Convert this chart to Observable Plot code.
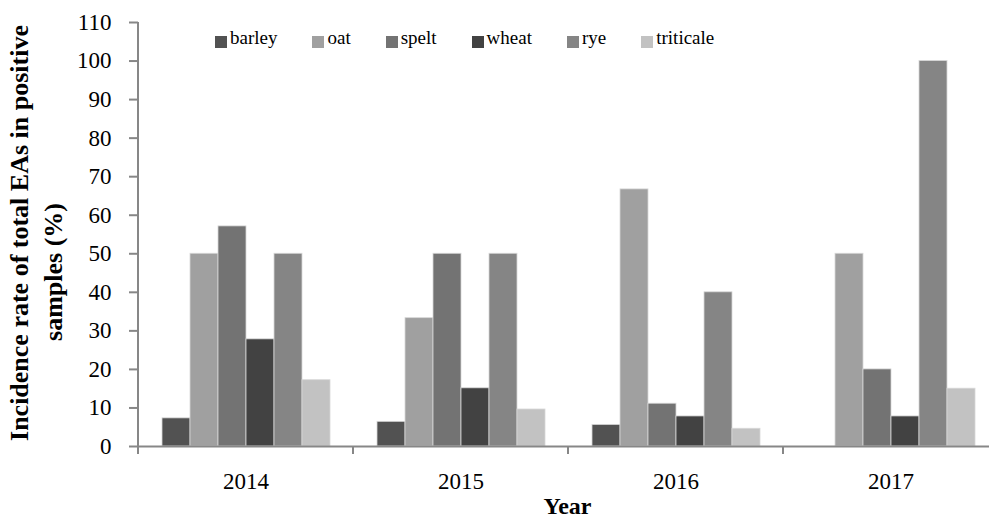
<!DOCTYPE html>
<html>
<head>
<meta charset="utf-8">
<script src="https://cdn.jsdelivr.net/npm/d3@7"></script>
<script src="https://cdn.jsdelivr.net/npm/@observablehq/plot@0.6"></script>
<style>
  html, body { margin: 0; padding: 0; background: #fff; }
  #wrap { position: relative; width: 989px; height: 519px; overflow: hidden; font-family: "Liberation Serif", "Times New Roman", Tinos, "DejaVu Serif", serif; color: #000; }
  #wrap svg, #wrap svg text { font-family: "Liberation Serif", "Times New Roman", Tinos, "DejaVu Serif", serif; }
  #legend { position: absolute; left: 215px; top: 28px; display: flex; align-items: center; height: 19px; font-size: 19px; line-height: 19px; }
  #legend .item { display: flex; align-items: center; margin-right: 35px; }
  #legend .sw { width: 12px; height: 12px; margin-right: 3px; position: relative; top: 4px; }
  .rot { position: absolute; transform: translate(-50%, -50%) rotate(-90deg); white-space: nowrap; font-weight: bold; font-size: 26px; line-height: 26px; }
  #xlab { position: absolute; transform: translateX(-50%); white-space: nowrap; font-weight: bold; font-size: 24px; line-height: 20px; }
</style>
</head>
<body>
<div id="wrap"></div>
<script>
// ---- data ----
const years = ["2014", "2015", "2016", "2017"];
const crops = ["barley", "oat", "spelt", "wheat", "rye", "triticale"];
const barley    = [7.3, 6.4, 5.6, 0];
const oat       = [50, 33.3, 66.7, 50];
const spelt     = [57.1, 50, 11.1, 20];
const wheat     = [27.8, 15.1, 7.8, 7.8];
const rye       = [50, 50, 40, 100];
const triticale = [17.2, 9.6, 4.6, 15];
const cropColors = ["#525252", "#a0a0a0", "#737373", "#424242", "#858585", "#c2c2c2"];
const yTicks = [0, 10, 20, 30, 40, 50, 60, 70, 80, 90, 100, 110];
const yTitle = ["Incidence rate of total EAs in positive", "samples (%)"];
const xTitle = "Year";

const series = [barley, oat, spelt, wheat, rye, triticale];
const data = years.flatMap((year, i) => crops.map((crop, j) => ({year, crop, value: series[j][i]})));

const axisColor = "#878787";
const serif = '"Liberation Serif", "Times New Roman", Tinos, "DejaVu Serif", serif';

const plot = Plot.plot({
  width: 989,
  height: 519,
  marginLeft: 137,
  marginRight: -9,
  marginTop: 22,
  marginBottom: 73,
  style: {fontFamily: serif, background: "transparent", color: "#000", overflow: "visible"},
  fx: {domain: years, padding: 0, label: null, axis: null},
  x: {domain: crops, paddingInner: 0, paddingOuter: 0.76, axis: null},
  y: {domain: [0, 110], label: null},
  color: {domain: crops, range: cropColors},
  marks: [
    Plot.barY(data.filter(d => d.value > 0), {fx: "year", x: "crop", y: "value", fill: "crop", stroke: "#d8d8d8", strokeWidth: 0.8}),
    Plot.ruleY([0], {stroke: axisColor, strokeWidth: 2}),
    Plot.axisY({ticks: yTicks, tickSize: 9, tickPadding: 18, fontSize: 23, stroke: axisColor, strokeWidth: 2, strokeOpacity: 1, label: null}),
    Plot.axisFx({anchor: "bottom", tickSize: 0, tickPadding: 26, fontSize: 23, label: null})
  ]
});

// axis line and category boundary ticks from the plot's own scales
const fx = plot.scale("fx");
const y = plot.scale("y");
const svg = d3.select(plot);
const y0 = y.apply(0);
const yTop = y.apply(110);
const bounds = years.map(v => fx.apply(v)).concat([fx.apply(years[years.length - 1]) + fx.bandwidth]);
const g = svg.append("g").attr("stroke", axisColor).attr("stroke-width", 2);
g.append("line").attr("x1", bounds[0]).attr("x2", bounds[0]).attr("y1", yTop).attr("y2", y0);
g.selectAll("line.b").data(bounds).join("line").attr("class", "b")
  .attr("x1", d => d).attr("x2", d => d).attr("y1", y0).attr("y2", y0 + 8);

const wrap = document.getElementById("wrap");
wrap.appendChild(plot);

// legend
const legend = document.createElement("div");
legend.id = "legend";
crops.forEach((c, i) => {
  const item = document.createElement("div");
  item.className = "item";
  const sw = document.createElement("span");
  sw.className = "sw";
  sw.style.background = cropColors[i];
  const t = document.createElement("span");
  t.textContent = c;
  item.appendChild(sw);
  item.appendChild(t);
  legend.appendChild(item);
});
wrap.appendChild(legend);

// axis titles
const l1 = document.createElement("div");
l1.className = "rot"; l1.textContent = yTitle[0];
l1.style.left = "20px"; l1.style.top = "233px";
wrap.appendChild(l1);
const l2 = document.createElement("div");
l2.className = "rot"; l2.textContent = yTitle[1];
l2.style.left = "54px"; l2.style.top = "272px";
wrap.appendChild(l2);
const xl = document.createElement("div");
xl.id = "xlab"; xl.textContent = xTitle;
xl.style.left = ((fx.range[0] + fx.range[1]) / 2) + "px"; xl.style.top = "496px";
wrap.appendChild(xl);
</script>
</body>
</html>
